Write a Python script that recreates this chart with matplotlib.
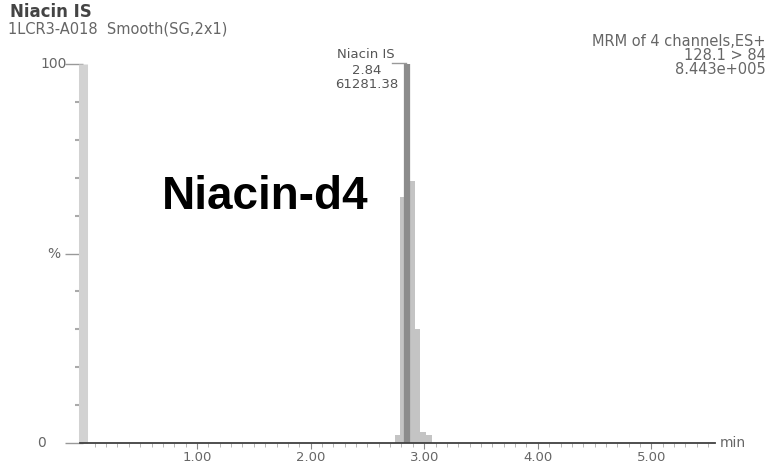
import numpy as np
import matplotlib.pyplot as plt

plt.rcParams['font.family'] = ['DejaVu Sans']

# chromatogram trace around the IS peak (minutes, % of max)
rt = [2.72, 2.765, 2.805, 2.845, 2.895, 2.94, 2.985, 3.04, 3.09]
pct = [0.0, 2.0, 65.0, 100.0, 69.0, 30.0, 3.0, 2.0, 0.0]

xticks = [1.0, 2.0, 3.0, 4.0, 5.0]
xtick_labels = ['1.00', '2.00', '3.00', '4.00', '5.00']
yticks = [0, 50, 100]
ytick_labels = ['0', '%', '100']

peak_name = 'Niacin IS'
peak_rt = 2.84
peak_area = 61281.38

fig = plt.figure(figsize=(7.69, 4.66), dpi=100)
ax = fig.add_axes([80 / 769, 23 / 466, 635 / 769, 379 / 466])
ax.set_xlim(-0.03, 5.56)
ax.set_ylim(0, 100)

# scans drawn as steps, apex scan darker
ax.fill_between(rt, pct, step='mid', color='#c4c4c4', lw=0)
top = int(np.argmax(pct))
ax.vlines(rt[top], 0, pct[top], color='#8c8c8c', lw=4.5)

# spines
for s in ['top', 'right']:
    ax.spines[s].set_visible(False)
ax.spines['left'].set_position(('data', 0))
ax.spines['left'].set_color('#d2d2d2')
ax.spines['left'].set_linewidth(6.5)
ax.spines['left'].set_capstyle('butt')
ax.spines['bottom'].set_color('#404040')
ax.spines['bottom'].set_linewidth(1.3)
ax.spines['bottom'].set_zorder(5)

ax.set_xticks(xticks)
ax.set_xticklabels(xtick_labels)
ax.set_xticks(np.arange(0.1, 5.51, 0.1), minor=True)
ax.tick_params(axis='x', which='major', direction='out', length=4, color='#888',
               labelsize=9.5, labelcolor='#666', pad=1.5)
ax.tick_params(axis='x', which='minor', direction='out', length=3, color='#aaa')

ax.set_yticks(yticks)
ax.set_yticklabels([''] * len(yticks))
ax.set_yticks(np.arange(10, 100, 10), minor=True)
ax.tick_params(axis='y', which='major', direction='out', length=13, color='#999', width=1)
ax.tick_params(axis='y', which='minor', direction='out', length=6, color='#aaa', width=1.5)
for y, lab, xr in zip(yticks, ytick_labels, [-0.33, -0.2, -0.15]):
    ax.text(xr, y, lab, fontsize=10, color='#666', ha='right', va='center')

ax.text(5.6, 0, 'min', fontsize=10, color='#666', va='center', ha='left')

# peak annotation
ax.text(2.49, 102.4, peak_name, fontsize=9.5, color='#555', ha='center', va='center',
        clip_on=False)
ax.text(2.49, 98.4, '%.2f' % peak_rt, fontsize=9.5, color='#555', ha='center', va='center')
ax.text(2.49, 94.5, '%.2f' % peak_area, fontsize=9.5, color='#555', ha='center', va='center')
ax.plot([2.72, peak_rt], [100.3, 100.3], color='#999', lw=1, clip_on=False)

ax.text(1.6, 65, 'Niacin-d4', fontsize=33, fontweight='bold', color='black',
        ha='center', va='center', family='Liberation Sans')

# header
fig.text(10 / 769, 1 - 12 / 466, 'Niacin IS', fontsize=12, fontweight='bold',
         color='#444', va='center')
fig.text(8 / 769, 1 - 29 / 466, '1LCR3-A018  Smooth(SG,2x1)', fontsize=10.5,
         color='#666', va='center')
fig.text(1 - 3 / 769, 1 - 41 / 466, 'MRM of 4 channels,ES+', fontsize=10.5,
         color='#666', va='center', ha='right')
fig.text(1 - 3 / 769, 1 - 55 / 466, '128.1 > 84', fontsize=10.5,
         color='#666', va='center', ha='right')
fig.text(1 - 3 / 769, 1 - 69 / 466, '8.443e+005', fontsize=10.5,
         color='#666', va='center', ha='right')

fig.savefig('out.png', dpi=100)
